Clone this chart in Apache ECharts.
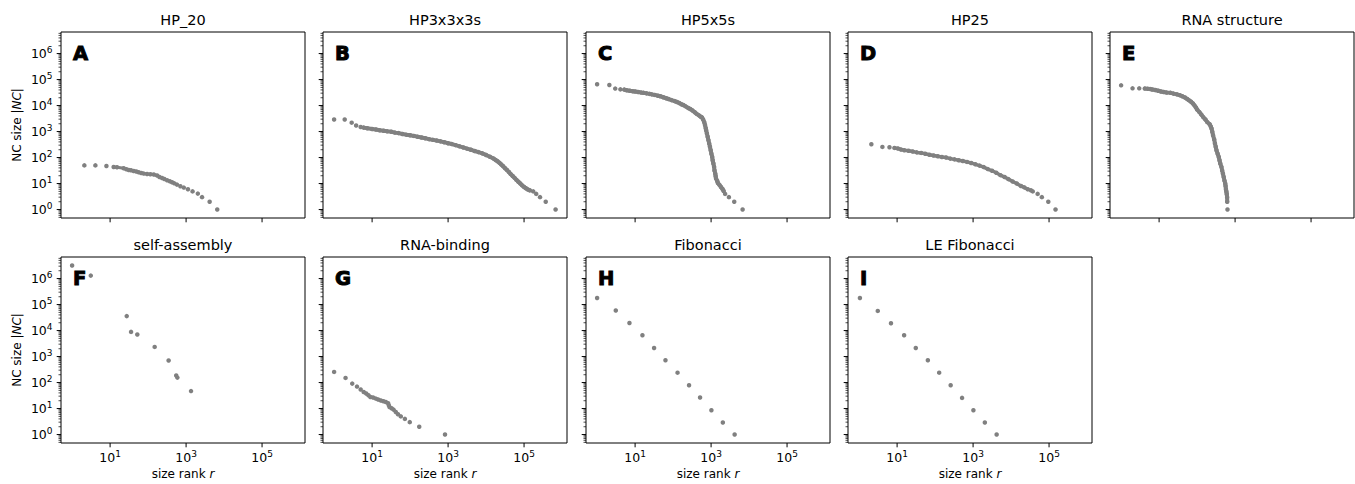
<!DOCTYPE html>
<html><head><meta charset="utf-8">
<script src="https://cdn.jsdelivr.net/npm/echarts@6/dist/echarts.min.js"></script>
<style>html,body{margin:0;padding:0;background:#fff}#c{width:1355px;height:484px}</style>
</head><body><div id="c"></div>
<script>
// ---------------- data ----------------
const titles = ['HP_20','HP3x3x3s','HP5x5s','HP25','RNA structure','self-assembly','RNA-binding','Fibonacci','LE Fibonacci'];
const letters = ['A','B','C','D','E','F','G','H','I'];

// [size rank r, NC size |NC|]
const panelA = [[2.1,50],[4.1,50],[8.0,47.5],[12.4,43.6],[15.2,42.5],[22.8,38.6],[26.9,35.5],[31,33.3],[35.5,32.4],[41.7,30.5],[49,28.9],[56.5,27.1],[66,25.6],[76.7,24.2],[94,23.4],[115,22.8],[141,22.2],[173,20.4],[199,17.8],[233,16.4],[268,15],[316,13.4],[372,12.2],[427,11.2],[490,10.2],[575,9.1],[708,7.9],[871,7.0],[1120,6.0],[1480,5.0],[2040,4.1],[2630,3.0],[4170,2.0],[6610,1]];
const panelB = [[1,2900],[1.9,2900],[2.9,2200],[3.8,1700],[5,1500],[6,1420],[7.5,1340],[10,1260],[12.6,1200],[15.8,1120],[20,1070],[25,1020],[32,980],[40,910],[50,870],[63,810],[79,760],[100,720],[126,680],[158,630],[200,590],[251,550],[316,510],[398,480],[501,450],[631,420],[794,390],[1000,355],[1260,330],[1580,300],[2000,270],[2510,245],[3160,220],[3980,200],[5010,178],[6310,162],[7940,145],[10000,126],[12600,107],[15800,91],[17800,81],[20000,72],[22400,63],[25100,54],[28200,46],[31600,39],[35500,33],[39800,28],[44700,23],[50100,19.5],[56200,16.6],[63100,13.8],[70800,11.7],[79400,10],[89100,8.5],[100000,7.4],[112000,6.6],[126000,5.9],[141000,5.5],[174000,5],[209000,4],[263000,3],[372000,2],[676000,1]];
const panelC = [[1,66000],[2.1,62000],[3.0,45000],[4.1,42000],[5.2,41000],[6.0,38900],[7.2,37200],[8.7,35500],[10,34700],[12,33100],[14.5,31600],[16.6,30900],[20,29500],[24,28200],[27.5,26900],[33,25700],[40,24000],[46,22900],[55,20900],[66,19100],[76,17800],[91,16200],[110,14800],[126,13800],[145,12600],[166,11200],[186,10500],[214,9300],[251,8100],[282,7400],[324,6500],[372,5500],[417,4800],[479,4200],[537,3700],[575,3500],[617,2900],[661,2300],[692,1780],[724,1350],[741,1120],[776,850],[813,630],[851,470],[891,350],[933,260],[977,190],[1020,141],[1070,105],[1100,79],[1150,59],[1200,44],[1230,32],[1290,24],[1320,19],[1350,15.5],[1450,12.6],[1510,10.5],[1660,8.9],[1820,7.4],[2000,6.2],[2140,5.2],[2340,4],[2950,3],[4070,2],[6760,1]];
const panelD = [[2.1,325],[4.1,257],[6.3,250],[8.5,235],[10.5,224],[12.6,204],[15.5,191],[20,182],[25.7,170],[33,158],[43,151],[55,141],[71,129],[91,120],[117,112],[151,105],[195,100],[251,91],[324,85],[417,79],[537,74],[692,68],[891,62],[1150,55],[1480,49],[1910,43],[2450,36],[3160,31],[4070,26],[5250,21],[6760,17.8],[8510,14.8],[11000,12],[14100,10],[18200,8.1],[22400,7.1],[27500,6.0],[33100,5.5],[37200,5],[50100,4],[64600,3],[95500,2],[148000,1]];
const panelE = [[1,60000],[2,46000],[3,46000],[4.2,45000],[5,44000],[5.9,43000],[6.6,41700],[7.9,39800],[9.5,37200],[11.2,34700],[13.2,33100],[15.8,31600],[20,30900],[24,28800],[29.5,26900],[34.7,25100],[40.7,22900],[47.9,20400],[55,17800],[61.7,15800],[69.2,14100],[77.6,12000],[85,10200],[93,8500],[100,7100],[115,5600],[129,4500],[145,3600],[166,2900],[186,2300],[214,1900],[229,1580],[240,1320],[251,980],[263,720],[282,500],[295,350],[309,260],[324,190],[347,141],[372,105],[389,79],[407,59],[437,44],[457,32],[479,24],[501,18],[525,13],[550,10],[562,8],[575,6],[589,5],[603,4],[617,3],[620,2],[631,1]];
const panelF = [[1,3200000],[3.1,1300000],[27.4,36000],[35.6,8900],[52,7100],[149,2350],[347,710],[550,186],[590,155],[1350,47]];
const panelG = [[1,257],[2,151],[3,91],[4,70],[5,54],[6,43.6],[7,38],[8,32.5],[9,28],[10.6,26.5],[12.5,24.2],[14.4,22.3],[17,20.4],[19.9,19.1],[23,17.9],[26.4,15.9],[27.5,13.5],[28.7,11.5],[32.5,10.3],[36.6,9.1],[42,7.4],[48,6],[57,5],[73,4],[98,3],[174,2],[830,1]];
const panelH = [[1,178000],[3.1,59000],[7.1,19500],[15.6,6600],[31.6,2140],[63,720],[131,240],[263,79],[513,26.5],[1020,8.6],[2040,2.9],[4170,1]];
const panelI = [[1.05,178000],[3.1,57000],[6.9,19000],[15.3,6600],[31,2140],[64.5,720],[128,240],[257,79],[513,25.7],[1020,8.6],[2040,2.9],[4170,1]];

// index ranges [start, end) of each panel where the points are packed into a continuous band
const denseA = [3, 18], denseB = [5, 59], denseC = [4, 62], denseD = [3, 37], denseE = [3, 55], denseG = [5, 22];

const xTickValues = [10, 1000, 100000];
const yTickValues = [1, 10, 100, 1000, 10000, 100000, 1000000];
const X_MIN = 0.51, X_MAX = 1.35e6;
const Y_MIN = 0.473, Y_MAX = 6.76e6;

// ---------------- layout ----------------
const panels = [panelA, panelB, panelC, panelD, panelE, panelF, panelG, panelH, panelI];
const dense = [denseA, denseB, denseC, denseD, denseE, null, denseG, null, null];
const bandWidth = [3, 4, 4, 3.5, 4, 0, 3, 0, 0];
const FONT = "'DejaVu Sans', sans-serif";
const lefts = [61, 323, 586, 848, 1110];
const tops = [32, 257];
const W = 244, H = 186;
const MAJ = 4.3, MIN = 2.5;
const GREY = '#808080';

function expOf(v, list) {
  for (const t of list) {
    if (Math.abs(v / t - 1) < 1e-6) return Math.round(Math.log10(t));
  }
  return null;
}
const labelRich = {
  b: {fontSize: 12.5, lineHeight: 17, fontFamily: FONT, color: '#000'},
  s: {fontSize: 9, lineHeight: 9, verticalAlign: 'top', fontFamily: FONT, color: '#000'}
};

// minor ticks (log subs 2..9) of the y axis
const yMinor = [];
for (let n = -1; n <= 6; n++) for (let k = 2; k <= 9; k++) {
  const v = k * Math.pow(10, n);
  if (v >= Y_MIN && v <= Y_MAX) yMinor.push(v);
}
const tickData = [];
yTickValues.forEach(v => tickData.push([X_MIN, v, 0]));
yMinor.forEach(v => tickData.push([X_MIN, v, 1]));
xTickValues.forEach(v => tickData.push([v, Y_MIN, 2]));

function renderTick(params, api) {
  const k = api.value(2);
  const p = api.coord([api.value(0), api.value(1)]);
  if (k === 2) {
    return {type: 'line', shape: {x1: p[0], y1: p[1], x2: p[0], y2: p[1] + MAJ}, style: {stroke: '#000', lineWidth: 1}};
  }
  const len = k === 0 ? MAJ : MIN;
  return {type: 'line', shape: {x1: p[0] - len, y1: p[1], x2: p[0], y2: p[1]}, style: {stroke: '#000', lineWidth: k === 0 ? 1 : 0.7}};
}

const grids = [], xAxes = [], yAxes = [], series = [], titleArr = [];
panels.forEach((data, i) => {
  const row = i < 5 ? 0 : 1;
  const col = i < 5 ? i : i - 5;
  const L = lefts[col], T = tops[row];
  grids.push({left: L, top: T, width: W, height: H, show: true, borderColor: '#000', borderWidth: 1, backgroundColor: 'transparent'});
  xAxes.push({
    type: 'log', logBase: 10, gridIndex: i, min: X_MIN, max: X_MAX,
    axisLine: {show: false}, axisTick: {show: false}, splitLine: {show: false}, minorTick: {show: false},
    axisLabel: {show: row === 1, showMinLabel: false, showMaxLabel: false, margin: 6, color: '#000', fontFamily: FONT, rich: labelRich,
      formatter: v => { const e = expOf(v, xTickValues); return e === null ? '' : '{b|10}{s|' + e + '}'; }},
    name: row === 1 ? 'size rank {i|r}' : '', nameLocation: 'middle', nameGap: 25,
    nameTextStyle: {color: '#000', fontSize: 12, fontFamily: FONT, rich: {i: {fontStyle: 'italic', color: '#000', fontSize: 12, fontFamily: FONT}}}
  });
  yAxes.push({
    type: 'log', logBase: 10, gridIndex: i, min: Y_MIN, max: Y_MAX,
    axisLine: {show: false}, axisTick: {show: false}, splitLine: {show: false}, minorTick: {show: false},
    axisLabel: {show: col === 0, showMinLabel: false, showMaxLabel: false, margin: 8.5, color: '#000', fontFamily: FONT, rich: labelRich,
      formatter: v => { const e = expOf(v, yTickValues); return e === null ? '' : '{b|10}{s|' + e + '}'; }},
    name: col === 0 ? 'NC size |{i|NC}|' : '', nameLocation: 'middle', nameGap: 38,
    nameTextStyle: {color: '#000', fontSize: 12, fontFamily: FONT, rich: {i: {fontStyle: 'italic', color: '#000', fontSize: 12, fontFamily: FONT}}}
  });
  if (dense[i]) {
    series.push({type: 'line', xAxisIndex: i, yAxisIndex: i, data: data.slice(dense[i][0], dense[i][1]),
      showSymbol: false, symbol: 'none', smooth: false, silent: true, z: 2,
      lineStyle: {color: GREY, width: bandWidth[i], cap: 'round', join: 'round'}});
  }
  series.push({type: 'scatter', xAxisIndex: i, yAxisIndex: i, data: data, symbol: 'circle', symbolSize: 4.5,
    itemStyle: {color: GREY, opacity: 1}, silent: true, z: 3});
  series.push({type: 'custom', xAxisIndex: i, yAxisIndex: i, data: tickData, renderItem: renderTick, silent: true, clip: false, z: 4});
  titleArr.push({text: titles[i], left: L + W / 2, top: T - 20, textAlign: 'center', padding: 0,
    textStyle: {fontSize: 14.5, fontWeight: 'normal', color: '#000', fontFamily: FONT}});
  titleArr.push({text: letters[i], left: L + 12, top: T + 11, padding: 0,
    textStyle: {fontSize: 19.5, fontWeight: 'bold', color: '#000', fontFamily: FONT, textBorderColor: '#000', textBorderWidth: 1}});
});

const chart = echarts.init(document.getElementById('c'), null, {renderer: 'svg', width: 1355, height: 484});
chart.setOption({
  animation: false,
  backgroundColor: '#fff',
  title: titleArr,
  grid: grids,
  xAxis: xAxes,
  yAxis: yAxes,
  series: series
});
</script>
</body></html>
